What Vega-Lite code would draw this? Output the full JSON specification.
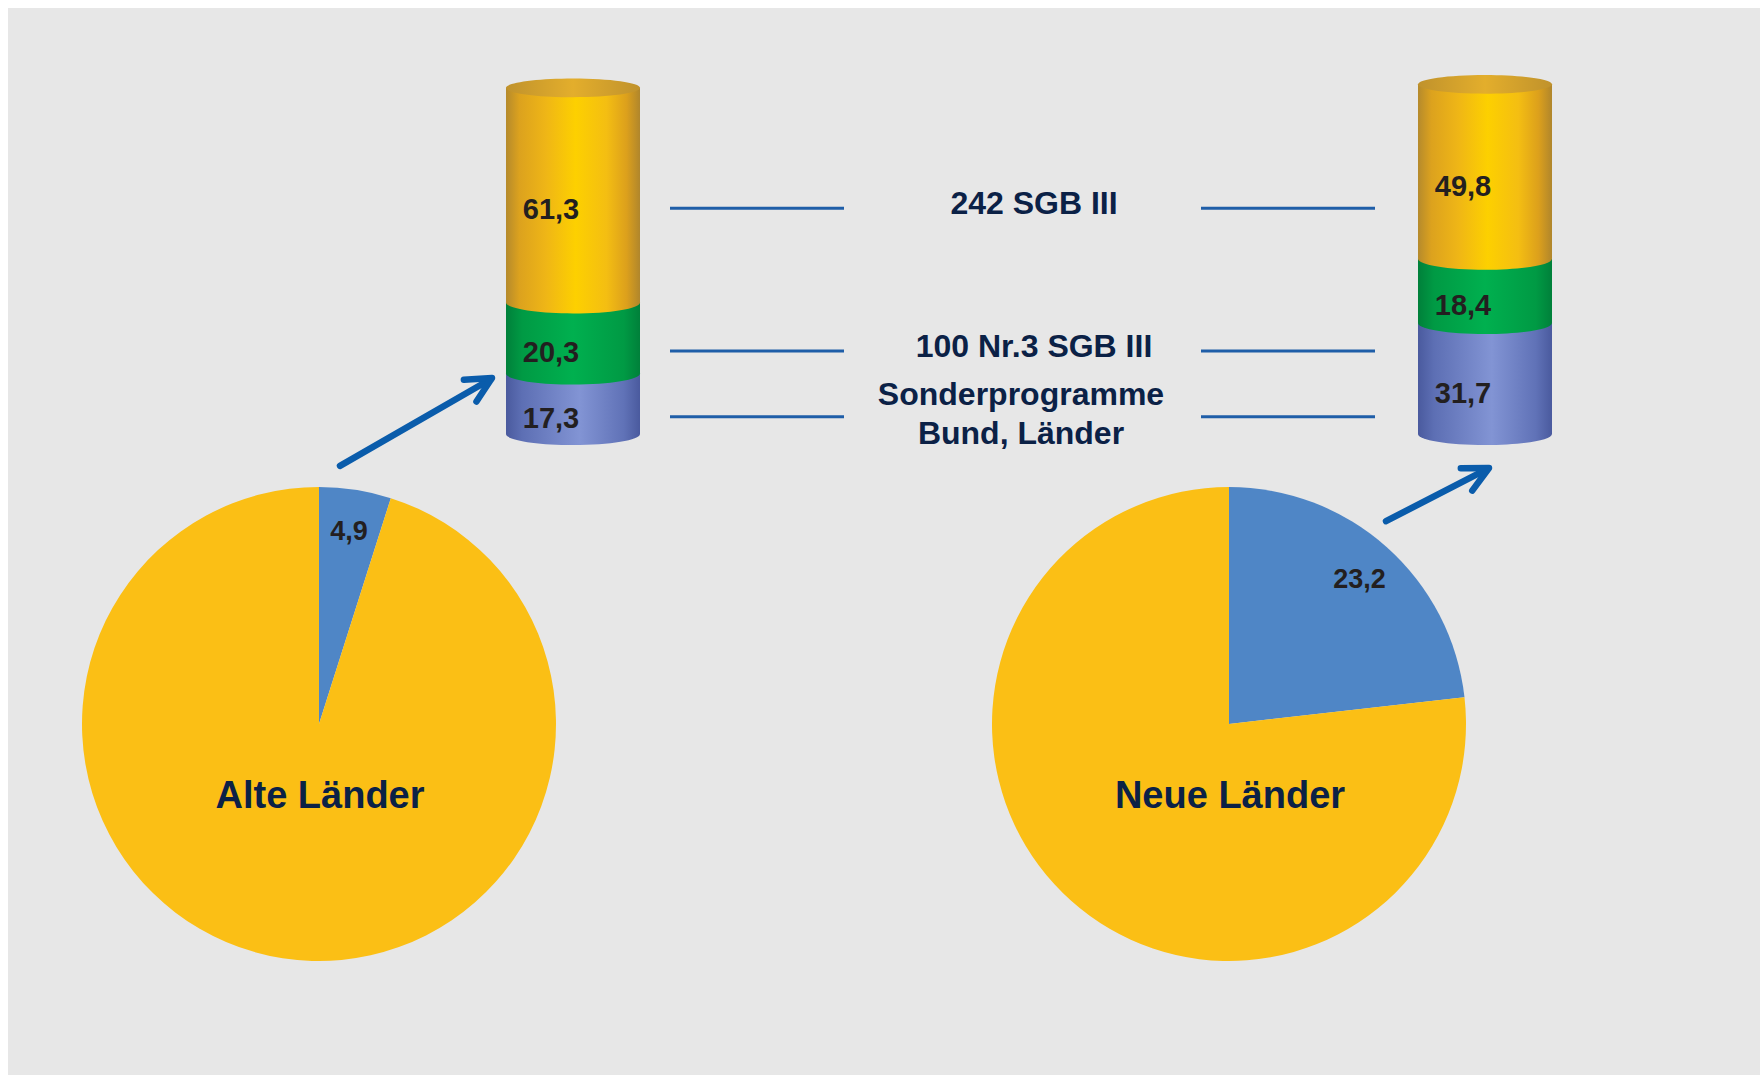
{
  "$schema": "https://vega.github.io/schema/vega-lite/v6.json",
  "width": 1752,
  "height": 1067,
  "padding": {"left": 8, "top": 8, "right": 0, "bottom": 0},
  "autosize": {"type": "none"},
  "background": "#ffffff",
  "config": {
    "view": {"stroke": null, "fill": "#e7e7e7"},
    "font": "Liberation Sans",
    "locale": {"number": {"decimal": ",", "thousands": ".", "grouping": [3], "currency": ["", " €"]}}
  },
  "datasets": {
    "torte": [
      {"region": "Alte Länder", "teil": "Anteil", "value": 4.9, "ord": 1},
      {"region": "Alte Länder", "teil": "Rest", "value": 95.1, "ord": 2},
      {"region": "Neue Länder", "teil": "Anteil", "value": 23.2, "ord": 1},
      {"region": "Neue Länder", "teil": "Rest", "value": 76.8, "ord": 2}
    ],
    "zylinder": [
      {"region": "Alte Länder", "kategorie": "Sonderprogramme Bund, Länder", "label": "Sonderprogramme|Bund, Länder", "value": 17.3, "ord": 1},
      {"region": "Alte Länder", "kategorie": "100 Nr.3 SGB III", "label": "100 Nr.3 SGB III", "value": 20.3, "ord": 2},
      {"region": "Alte Länder", "kategorie": "242 SGB III", "label": "242 SGB III", "value": 61.3, "ord": 3},
      {"region": "Neue Länder", "kategorie": "Sonderprogramme Bund, Länder", "label": "Sonderprogramme|Bund, Länder", "value": 31.7, "ord": 1},
      {"region": "Neue Länder", "kategorie": "100 Nr.3 SGB III", "label": "100 Nr.3 SGB III", "value": 18.4, "ord": 2},
      {"region": "Neue Länder", "kategorie": "242 SGB III", "label": "242 SGB III", "value": 49.8, "ord": 3}
    ],
    "regionen": [
      {"region": "Alte Länder"},
      {"region": "Neue Länder"}
    ]
  },
  "resolve": {"scale": {"x": "independent", "y": "independent"}},
  "layer": [
    {
      "encoding": {
        "x": {"field": "region", "type": "nominal", "scale": {"type": "point", "padding": 0, "domain": ["Alte Länder", "Neue Länder"], "range": [311, 1221]}, "axis": null},
        "y": {"field": "region", "type": "nominal", "scale": {"type": "point", "padding": 0, "domain": ["Alte Länder", "Neue Länder"], "range": [716, 716]}, "axis": null}
      },
      "layer": [
        {
          "data": {"name": "torte"},
          "transform": [
            {"stack": "value", "groupby": ["region"], "sort": [{"field": "ord", "order": "ascending"}], "as": ["t0", "t1"]}
          ],
          "mark": {"type": "arc", "outerRadius": 237, "opacity": 1},
          "encoding": {
            "theta": {"field": "t0", "type": "quantitative", "stack": null, "scale": {"domain": [0, 100]}},
            "theta2": {"field": "t1"},
            "color": {"field": "teil", "type": "nominal", "scale": {"domain": ["Anteil", "Rest"], "range": ["#4f86c6", "#fbbf15"]}, "legend": null}
          }
        },
        {
          "data": {"name": "torte"},
          "transform": [
            {"stack": "value", "groupby": ["region"], "sort": [{"field": "ord", "order": "ascending"}], "as": ["t0", "t1"]},
            {"filter": "datum.teil === 'Anteil'"},
            {"fold": ["t0", "t1"], "as": ["grenze", "pos"]},
            {"aggregate": [{"op": "mean", "field": "pos", "as": "mitte"}], "groupby": ["region", "value"]}
          ],
          "mark": {"type": "text", "radius": 196, "dy": 2, "fontSize": 27, "fontWeight": "bold", "color": "#231f20", "align": "center", "baseline": "middle", "opacity": 1},
          "encoding": {
            "theta": {"field": "mitte", "type": "quantitative", "stack": null, "scale": {"domain": [0, 100]}},
            "text": {"field": "value", "type": "quantitative", "format": ".1f"}
          }
        },
        {
          "data": {"name": "regionen"},
          "mark": {"type": "text", "dy": 73, "dx": 1, "fontSize": 38, "fontWeight": "bold", "color": "#0b2146", "align": "center", "baseline": "middle"},
          "encoding": {"text": {"field": "region", "type": "nominal"}}
        }
      ]
    },
    {
      "encoding": {
        "x": {"field": "region", "type": "nominal", "scale": {"type": "point", "padding": 0, "domain": ["Alte Länder", "Neue Länder"], "range": [565, 1477]}, "axis": null}
      },
      "layer": [
        {
          "data": {"name": "zylinder"},
          "transform": [
            {"stack": "value", "groupby": ["region"], "sort": [{"field": "ord", "order": "ascending"}], "as": ["y0", "y1"]},
            {"filter": "datum.ord === 1"}
          ],
          "mark": {"type": "bar", "width": 134, "opacity": 1, "fill": {"gradient": "linear", "x1": 0, "y1": 0, "x2": 1, "y2": 0, "stops": [{"offset": 0, "color": "#4a5a9e"}, {"offset": 0.12, "color": "#5d6fb4"}, {"offset": 0.55, "color": "#8294d4"}, {"offset": 0.88, "color": "#6072b7"}, {"offset": 1, "color": "#4a5a9e"}]}},
          "encoding": {
            "y": {"field": "y0", "type": "quantitative", "scale": {"domain": [0, 100], "range": [426, 76], "nice": false, "zero": false}, "axis": null},
            "y2": {"field": "y1"}
          }
        },
        {
          "data": {"name": "zylinder"},
          "transform": [
            {"stack": "value", "groupby": ["region"], "sort": [{"field": "ord", "order": "ascending"}], "as": ["y0", "y1"]},
            {"filter": "datum.ord === 1"}
          ],
          "mark": {"type": "point", "shape": "M -1 0 A 1 0.165 0 1 0 1 0 A 1 0.165 0 1 0 -1 0 Z", "size": 17956, "filled": true, "opacity": 1, "strokeWidth": 0, "fill": {"gradient": "linear", "x1": 0, "y1": 0, "x2": 1, "y2": 0, "stops": [{"offset": 0, "color": "#4a5a9e"}, {"offset": 0.12, "color": "#5d6fb4"}, {"offset": 0.55, "color": "#8294d4"}, {"offset": 0.88, "color": "#6072b7"}, {"offset": 1, "color": "#4a5a9e"}]}},
          "encoding": {
            "y": {"field": "y0", "type": "quantitative"}
          }
        },
        {
          "data": {"name": "zylinder"},
          "transform": [
            {"stack": "value", "groupby": ["region"], "sort": [{"field": "ord", "order": "ascending"}], "as": ["y0", "y1"]},
            {"filter": "datum.ord === 2"}
          ],
          "mark": {"type": "bar", "width": 134, "opacity": 1, "fill": {"gradient": "linear", "x1": 0, "y1": 0, "x2": 1, "y2": 0, "stops": [{"offset": 0, "color": "#00803a"}, {"offset": 0.12, "color": "#009a44"}, {"offset": 0.5, "color": "#00b04f"}, {"offset": 0.88, "color": "#009a44"}, {"offset": 1, "color": "#00803a"}]}},
          "encoding": {
            "y": {"field": "y0", "type": "quantitative"},
            "y2": {"field": "y1"}
          }
        },
        {
          "data": {"name": "zylinder"},
          "transform": [
            {"stack": "value", "groupby": ["region"], "sort": [{"field": "ord", "order": "ascending"}], "as": ["y0", "y1"]},
            {"filter": "datum.ord === 2"}
          ],
          "mark": {"type": "point", "shape": "M -1 0 A 1 0.165 0 1 0 1 0 A 1 0.165 0 1 0 -1 0 Z", "size": 17956, "filled": true, "opacity": 1, "strokeWidth": 0, "fill": {"gradient": "linear", "x1": 0, "y1": 0, "x2": 1, "y2": 0, "stops": [{"offset": 0, "color": "#00803a"}, {"offset": 0.12, "color": "#009a44"}, {"offset": 0.5, "color": "#00b04f"}, {"offset": 0.88, "color": "#009a44"}, {"offset": 1, "color": "#00803a"}]}},
          "encoding": {
            "y": {"field": "y0", "type": "quantitative"}
          }
        },
        {
          "data": {"name": "zylinder"},
          "transform": [
            {"stack": "value", "groupby": ["region"], "sort": [{"field": "ord", "order": "ascending"}], "as": ["y0", "y1"]},
            {"filter": "datum.ord === 3"}
          ],
          "mark": {"type": "bar", "width": 134, "opacity": 1, "fill": {"gradient": "linear", "x1": 0, "y1": 0, "x2": 1, "y2": 0, "stops": [{"offset": 0, "color": "#b58a2c"}, {"offset": 0.1, "color": "#dca21e"}, {"offset": 0.3, "color": "#efb616"}, {"offset": 0.52, "color": "#fdd000"}, {"offset": 0.75, "color": "#f4be12"}, {"offset": 0.9, "color": "#dca01c"}, {"offset": 1, "color": "#b0862c"}]}},
          "encoding": {
            "y": {"field": "y0", "type": "quantitative"},
            "y2": {"field": "y1"}
          }
        },
        {
          "data": {"name": "zylinder"},
          "transform": [
            {"stack": "value", "groupby": ["region"], "sort": [{"field": "ord", "order": "ascending"}], "as": ["y0", "y1"]},
            {"filter": "datum.ord === 3"}
          ],
          "mark": {"type": "point", "shape": "M -1 0 A 1 0.165 0 1 0 1 0 A 1 0.165 0 1 0 -1 0 Z", "size": 17956, "filled": true, "opacity": 1, "strokeWidth": 0, "fill": {"gradient": "linear", "x1": 0, "y1": 0, "x2": 1, "y2": 0, "stops": [{"offset": 0, "color": "#b58a2c"}, {"offset": 0.1, "color": "#dca21e"}, {"offset": 0.3, "color": "#efb616"}, {"offset": 0.52, "color": "#fdd000"}, {"offset": 0.75, "color": "#f4be12"}, {"offset": 0.9, "color": "#dca01c"}, {"offset": 1, "color": "#b0862c"}]}},
          "encoding": {
            "y": {"field": "y0", "type": "quantitative"}
          }
        },
        {
          "data": {"name": "zylinder"},
          "transform": [
            {"stack": "value", "groupby": ["region"], "sort": [{"field": "ord", "order": "ascending"}], "as": ["y0", "y1"]},
            {"filter": "datum.ord === 3"}
          ],
          "mark": {"type": "point", "shape": "M -1 0 A 1 0.14 0 1 0 1 0 A 1 0.14 0 1 0 -1 0 Z", "size": 17956, "filled": true, "opacity": 1, "strokeWidth": 0, "fill": {"gradient": "linear", "x1": 0, "y1": 0, "x2": 1, "y2": 0, "stops": [{"offset": 0, "color": "#c0922c"}, {"offset": 0.5, "color": "#e3ae2c"}, {"offset": 1, "color": "#c0922c"}]}},
          "encoding": {
            "y": {"field": "y1", "type": "quantitative"}
          }
        },
        {
          "data": {"name": "zylinder"},
          "transform": [
            {"stack": "value", "groupby": ["region"], "sort": [{"field": "ord", "order": "ascending"}], "as": ["y0", "y1"]},
            {"fold": ["y0", "y1"], "as": ["grenze", "pos"]},
            {"aggregate": [{"op": "mean", "field": "pos", "as": "mitte"}], "groupby": ["region", "kategorie", "value"]}
          ],
          "mark": {"type": "text", "dx": -22, "dy": 15, "fontSize": 29, "fontWeight": "bold", "color": "#231f20", "align": "center", "baseline": "middle"},
          "encoding": {
            "y": {"field": "mitte", "type": "quantitative"},
            "text": {"field": "value", "type": "quantitative", "format": ".1f"}
          }
        },
        {
          "data": {"name": "zylinder"},
          "transform": [
            {"stack": "value", "groupby": ["region"], "sort": [{"field": "ord", "order": "ascending"}], "as": ["y0", "y1"]},
            {"filter": "datum.region === 'Alte Länder'"},
            {"fold": ["y0", "y1"], "as": ["grenze", "pos"]},
            {"aggregate": [{"op": "mean", "field": "pos", "as": "mitte"}], "groupby": ["kategorie", "label"]}
          ],
          "mark": {"type": "rule", "xOffset": 97, "x2Offset": 271, "yOffset": 13, "strokeWidth": 3, "color": "#1f5ea8", "opacity": 1},
          "encoding": {
            "x": {"datum": "Alte Länder", "type": "nominal"},
            "x2": {"datum": "Alte Länder"},
            "y": {"field": "mitte", "type": "quantitative"}
          }
        },
        {
          "data": {"name": "zylinder"},
          "transform": [
            {"stack": "value", "groupby": ["region"], "sort": [{"field": "ord", "order": "ascending"}], "as": ["y0", "y1"]},
            {"filter": "datum.region === 'Alte Länder'"},
            {"fold": ["y0", "y1"], "as": ["grenze", "pos"]},
            {"aggregate": [{"op": "mean", "field": "pos", "as": "mitte"}], "groupby": ["kategorie", "label"]}
          ],
          "mark": {"type": "rule", "xOffset": -284, "x2Offset": -110, "yOffset": 13, "strokeWidth": 3, "color": "#1f5ea8", "opacity": 1},
          "encoding": {
            "x": {"datum": "Neue Länder", "type": "nominal"},
            "x2": {"datum": "Neue Länder"},
            "y": {"field": "mitte", "type": "quantitative"}
          }
        },
        {
          "data": {"name": "zylinder"},
          "transform": [
            {"stack": "value", "groupby": ["region"], "sort": [{"field": "ord", "order": "ascending"}], "as": ["y0", "y1"]},
            {"filter": "datum.region === 'Alte Länder'"},
            {"fold": ["y0", "y1"], "as": ["grenze", "pos"]},
            {"aggregate": [{"op": "mean", "field": "pos", "as": "mitte"}], "groupby": ["kategorie", "label", "ord"]},
            {"filter": "datum.ord !== 1"}
          ],
          "mark": {"type": "text", "xOffset": 461, "dy": 9, "fontSize": 32, "fontWeight": "bold", "color": "#0b2146", "align": "center", "baseline": "middle"},
          "encoding": {
            "x": {"datum": "Alte Länder", "type": "nominal"},
            "y": {"field": "mitte", "type": "quantitative"},
            "text": {"field": "label", "type": "nominal"}
          }
        },
        {
          "data": {"name": "zylinder"},
          "transform": [
            {"stack": "value", "groupby": ["region"], "sort": [{"field": "ord", "order": "ascending"}], "as": ["y0", "y1"]},
            {"filter": "datum.region === 'Alte Länder'"},
            {"fold": ["y0", "y1"], "as": ["grenze", "pos"]},
            {"aggregate": [{"op": "mean", "field": "pos", "as": "mitte"}], "groupby": ["kategorie", "label", "ord"]},
            {"filter": "datum.ord === 1"}
          ],
          "mark": {"type": "text", "xOffset": 448, "dy": -9, "fontSize": 32, "fontWeight": "bold", "color": "#0b2146", "align": "center", "baseline": "middle", "lineBreak": "|", "lineHeight": 39},
          "encoding": {
            "x": {"datum": "Alte Länder", "type": "nominal"},
            "y": {"field": "mitte", "type": "quantitative"},
            "text": {"field": "label", "type": "nominal"}
          }
        },
        {
          "data": {"values": [{"pfeil": "Alte Länder"}]},
          "mark": {"type": "rule", "xOffset": -233, "x2Offset": -82, "strokeWidth": 6.5, "strokeCap": "round", "color": "#0a5cab", "opacity": 1},
          "encoding": {
            "x": {"datum": "Alte Länder", "type": "nominal"},
            "x2": {"datum": "Alte Länder"},
            "y": {"datum": -9.1, "type": "quantitative"},
            "y2": {"datum": 15.7}
          }
        },
        {
          "data": {"values": [{"pfeil": "Alte Länder"}]},
          "mark": {"type": "point", "shape": "M -0.45 0.9 L 0 0 L 0.45 0.9", "size": 3136, "filled": false, "angle": 60, "xOffset": -81, "strokeWidth": 6.5, "strokeCap": "round", "strokeJoin": "round", "stroke": "#0a5cab", "opacity": 1},
          "encoding": {
            "x": {"datum": "Alte Länder", "type": "nominal"},
            "y": {"datum": 16, "type": "quantitative"}
          }
        },
        {
          "data": {"values": [{"pfeil": "Neue Länder"}]},
          "mark": {"type": "rule", "xOffset": -99, "x2Offset": 3, "strokeWidth": 6.5, "strokeCap": "round", "color": "#0a5cab", "opacity": 1},
          "encoding": {
            "x": {"datum": "Neue Länder", "type": "nominal"},
            "x2": {"datum": "Neue Länder"},
            "y": {"datum": -24.9, "type": "quantitative"},
            "y2": {"datum": -9.9}
          }
        },
        {
          "data": {"values": [{"pfeil": "Neue Länder"}]},
          "mark": {"type": "point", "shape": "M -0.45 0.9 L 0 0 L 0.45 0.9", "size": 3136, "filled": false, "angle": 63, "xOffset": 4, "strokeWidth": 6.5, "strokeCap": "round", "strokeJoin": "round", "stroke": "#0a5cab", "opacity": 1},
          "encoding": {
            "x": {"datum": "Neue Länder", "type": "nominal"},
            "y": {"datum": -9.7, "type": "quantitative"}
          }
        }
      ]
    }
  ]
}
